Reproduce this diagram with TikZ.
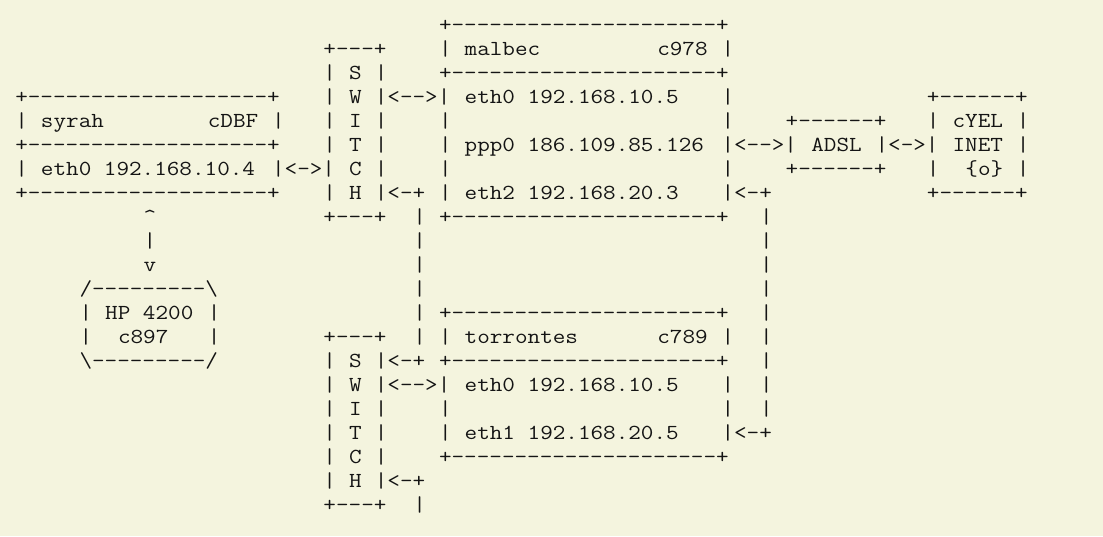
\documentclass[tikz,border=0pt]{standalone}
\usepackage{fontspec}
\setmonofont[FakeStretch=1.1429]{Latin Modern Mono}
\definecolor{bgbeige}{RGB}{244,244,222}
\definecolor{inkc}{RGB}{20,20,20}
\newcommand\asc[3]{\node[txt] (r#2c#1) at ({#1*9.63pt+11.475pt},{-#2*18pt-5.25pt}) {#3};}
\begin{document}
\begin{tikzpicture}[
  txt/.style={anchor=base west, inner sep=0pt, outer sep=0pt, text=inkc,
    font=\ttfamily\fontsize{16.05pt}{18pt}\selectfont}]
\fill[bgbeige] (0,0) rectangle (827.25pt,-402pt);
\useasboundingbox (0,0) rectangle (827.25pt,-402pt);
% row 1
\asc{33}{1}{+---------------------+}
% row 2
\asc{24}{2}{+---+}\asc{33}{2}{|}\asc{35}{2}{malbec}\asc{50}{2}{c978}\asc{55}{2}{|}
% row 3
\asc{24}{3}{|}\asc{26}{3}{S}\asc{28}{3}{|}\asc{33}{3}{+---------------------+}
% row 4
\asc{0}{4}{+-------------------+}\asc{24}{4}{|}\asc{26}{4}{W}\asc{28}{4}{|<-->|}
\asc{35}{4}{eth0 192.168.10.5}\asc{55}{4}{|}\asc{71}{4}{+------+}
% row 5
\asc{0}{5}{|}\asc{2}{5}{syrah}\asc{15}{5}{cDBF}\asc{20}{5}{|}
\asc{24}{5}{|}\asc{26}{5}{I}\asc{28}{5}{|}\asc{33}{5}{|}\asc{55}{5}{|}
\asc{60}{5}{+------+}\asc{71}{5}{|}\asc{73}{5}{cYEL}\asc{78}{5}{|}
% row 6
\asc{0}{6}{+-------------------+}\asc{24}{6}{|}\asc{26}{6}{T}\asc{28}{6}{|}\asc{33}{6}{|}
\asc{35}{6}{ppp0 186.109.85.126}\asc{55}{6}{|<-->|}\asc{62}{6}{ADSL}\asc{67}{6}{|<->|}
\asc{73}{6}{INET}\asc{78}{6}{|}
% row 7
\asc{0}{7}{|}\asc{2}{7}{eth0 192.168.10.4}\asc{20}{7}{|<->|}\asc{26}{7}{C}\asc{28}{7}{|}
\asc{33}{7}{|}\asc{55}{7}{|}\asc{60}{7}{+------+}\asc{71}{7}{|}\asc{74}{7}{\{o\}}\asc{78}{7}{|}
% row 8
\asc{0}{8}{+-------------------+}\asc{24}{8}{|}\asc{26}{8}{H}\asc{28}{8}{|<-+}\asc{33}{8}{|}
\asc{35}{8}{eth2 192.168.20.3}\asc{55}{8}{|<-+}\asc{71}{8}{+------+}
% row 9
\asc{10}{9}{\textasciicircum}\asc{24}{9}{+---+}\asc{31}{9}{|}\asc{33}{9}{+---------------------+}\asc{58}{9}{|}
% row 10
\asc{10}{10}{|}\asc{31}{10}{|}\asc{58}{10}{|}
% row 11
\asc{10}{11}{v}\asc{31}{11}{|}\asc{58}{11}{|}
% row 12
\asc{5}{12}{/---------\textbackslash}\asc{31}{12}{|}\asc{58}{12}{|}
% row 13
\asc{5}{13}{|}\asc{7}{13}{HP 4200}\asc{15}{13}{|}\asc{31}{13}{|}\asc{33}{13}{+---------------------+}\asc{58}{13}{|}
% row 14
\asc{5}{14}{|}\asc{8}{14}{c897}\asc{15}{14}{|}\asc{24}{14}{+---+}\asc{31}{14}{|}\asc{33}{14}{|}
\asc{35}{14}{torrontes}\asc{50}{14}{c789}\asc{55}{14}{|}\asc{58}{14}{|}
% row 15
\asc{5}{15}{\textbackslash---------/}\asc{24}{15}{|}\asc{26}{15}{S}\asc{28}{15}{|<-+}
\asc{33}{15}{+---------------------+}\asc{58}{15}{|}
% row 16
\asc{24}{16}{|}\asc{26}{16}{W}\asc{28}{16}{|<-->|}\asc{35}{16}{eth0 192.168.10.5}\asc{55}{16}{|}\asc{58}{16}{|}
% row 17
\asc{24}{17}{|}\asc{26}{17}{I}\asc{28}{17}{|}\asc{33}{17}{|}\asc{55}{17}{|}\asc{58}{17}{|}
% row 18
\asc{24}{18}{|}\asc{26}{18}{T}\asc{28}{18}{|}\asc{33}{18}{|}\asc{35}{18}{eth1 192.168.20.5}\asc{55}{18}{|<-+}
% row 19
\asc{24}{19}{|}\asc{26}{19}{C}\asc{28}{19}{|}\asc{33}{19}{+---------------------+}
% row 20
\asc{24}{20}{|}\asc{26}{20}{H}\asc{28}{20}{|<-+}
% row 21
\asc{24}{21}{+---+}\asc{31}{21}{|}
\end{tikzpicture}
\end{document}
